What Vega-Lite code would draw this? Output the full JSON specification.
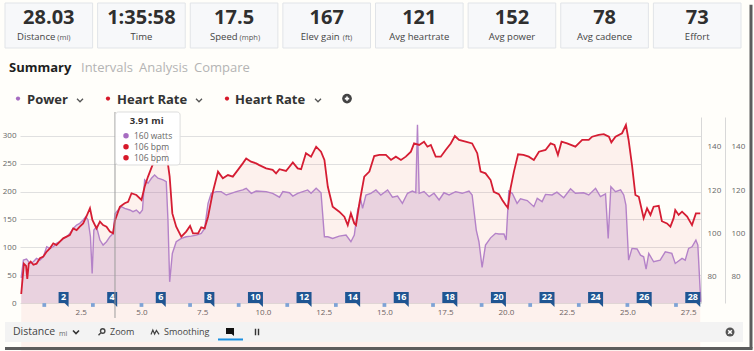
{
"$schema": "https://vega.github.io/schema/vega-lite/v6.json",
"width": 681, "height": 186,
"autosize": {"type": "none"},
"padding": {"left": 20, "top": 117, "right": 53, "bottom": 48},
"background": "#fffefa",
"config": {"view": {"stroke": null}, "font": "Open Sans", "axis": {"labelFont": "Open Sans", "labelFontSize": 8, "labelColor": "#666666", "labelOverlap": false}},
"datasets": {
"power": [{"d":0.05,"w":45},{"d":0.14,"w":77},{"d":0.27,"w":79},{"d":0.41,"w":71},{"d":0.55,"w":74},{"d":0.68,"w":80},{"d":0.82,"w":77},{"d":0.96,"w":83},{"d":1.1,"w":101},{"d":1.23,"w":98},{"d":1.37,"w":101},{"d":1.5,"w":107},{"d":1.64,"w":110},{"d":1.78,"w":116},{"d":1.92,"w":119},{"d":2.05,"w":125},{"d":2.19,"w":134},{"d":2.33,"w":140},{"d":2.46,"w":143},{"d":2.6,"w":149},{"d":2.71,"w":155},{"d":2.8,"w":149},{"d":2.9,"w":119},{"d":2.97,"w":53},{"d":3.04,"w":131},{"d":3.15,"w":137},{"d":3.29,"w":113},{"d":3.42,"w":104},{"d":3.56,"w":110},{"d":3.7,"w":119},{"d":3.83,"w":125},{"d":3.91,"w":160},{"d":4.04,"w":167},{"d":4.17,"w":173},{"d":4.31,"w":170},{"d":4.52,"w":167},{"d":4.65,"w":164},{"d":4.79,"w":167},{"d":4.93,"w":161},{"d":5.04,"w":167},{"d":5.13,"w":221},{"d":5.27,"w":215},{"d":5.41,"w":224},{"d":5.54,"w":230},{"d":5.68,"w":224},{"d":5.89,"w":221},{"d":6.02,"w":218},{"d":6.09,"w":149},{"d":6.16,"w":38},{"d":6.27,"w":89},{"d":6.43,"w":110},{"d":6.64,"w":116},{"d":6.84,"w":119},{"d":7.05,"w":120},{"d":7.26,"w":122},{"d":7.46,"w":125},{"d":7.6,"w":134},{"d":7.74,"w":179},{"d":7.87,"w":197},{"d":8.08,"w":200},{"d":8.28,"w":200},{"d":8.49,"w":194},{"d":8.69,"w":197},{"d":8.9,"w":200},{"d":9.17,"w":203},{"d":9.31,"w":206},{"d":9.52,"w":197},{"d":9.72,"w":201},{"d":10.13,"w":200},{"d":10.4,"w":197},{"d":10.68,"w":190},{"d":10.82,"w":200},{"d":11.09,"w":198},{"d":11.23,"w":192},{"d":11.43,"w":197},{"d":11.64,"w":200},{"d":11.84,"w":203},{"d":11.98,"w":197},{"d":12.19,"w":206},{"d":12.39,"w":198},{"d":12.53,"w":119},{"d":12.67,"w":119},{"d":12.87,"w":116},{"d":13.14,"w":120},{"d":13.42,"w":122},{"d":13.62,"w":110},{"d":13.76,"w":122},{"d":13.9,"w":167},{"d":14.03,"w":185},{"d":14.1,"w":170},{"d":14.24,"w":194},{"d":14.44,"w":197},{"d":14.65,"w":203},{"d":14.85,"w":194},{"d":15.13,"w":203},{"d":15.33,"w":190},{"d":15.54,"w":192},{"d":15.74,"w":179},{"d":15.95,"w":197},{"d":16.15,"w":201},{"d":16.29,"w":198},{"d":16.36,"w":320},{"d":16.43,"w":197},{"d":16.63,"w":200},{"d":16.84,"w":191},{"d":17.04,"w":197},{"d":17.25,"w":185},{"d":17.45,"w":198},{"d":17.66,"w":194},{"d":17.93,"w":200},{"d":18.2,"w":197},{"d":18.48,"w":201},{"d":18.61,"w":194},{"d":18.78,"w":131},{"d":18.89,"w":110},{"d":19.02,"w":64},{"d":19.16,"w":104},{"d":19.37,"w":117},{"d":19.57,"w":125},{"d":19.71,"w":124},{"d":19.92,"w":124},{"d":20.01,"w":113},{"d":20.12,"w":201},{"d":20.26,"w":197},{"d":20.46,"w":179},{"d":20.6,"w":187},{"d":20.88,"w":184},{"d":21.15,"w":173},{"d":21.29,"w":188},{"d":21.49,"w":182},{"d":21.63,"w":195},{"d":21.9,"w":194},{"d":22.1,"w":199},{"d":22.38,"w":189},{"d":22.66,"w":205},{"d":22.86,"w":197},{"d":23.2,"w":198},{"d":23.41,"w":194},{"d":23.69,"w":206},{"d":23.89,"w":191},{"d":24.1,"w":196},{"d":24.21,"w":116},{"d":24.32,"w":209},{"d":24.51,"w":200},{"d":24.72,"w":203},{"d":24.85,"w":194},{"d":24.94,"w":176},{"d":25.05,"w":77},{"d":25.19,"w":98},{"d":25.4,"w":97},{"d":25.54,"w":86},{"d":25.67,"w":83},{"d":25.77,"w":61},{"d":25.88,"w":89},{"d":26.08,"w":74},{"d":26.35,"w":77},{"d":26.56,"w":92},{"d":26.83,"w":89},{"d":26.97,"w":71},{"d":27.25,"w":80},{"d":27.38,"w":77},{"d":27.52,"w":98},{"d":27.66,"w":101},{"d":27.82,"w":113},{"d":27.9,"w":104},{"d":28.02,"w":2}],
"hr": [{"d":0.05,"bpm":72},{"d":0.16,"bpm":86},{"d":0.25,"bpm":85},{"d":0.3,"bpm":79},{"d":0.36,"bpm":86},{"d":0.44,"bpm":87},{"d":0.55,"bpm":85.5},{"d":0.68,"bpm":86},{"d":0.82,"bpm":88.5},{"d":0.96,"bpm":89.3},{"d":1.1,"bpm":91.6},{"d":1.23,"bpm":93.1},{"d":1.37,"bpm":95.4},{"d":1.5,"bpm":94.6},{"d":1.64,"bpm":96.2},{"d":1.78,"bpm":97.7},{"d":1.92,"bpm":98.5},{"d":2.05,"bpm":99.2},{"d":2.19,"bpm":102.3},{"d":2.33,"bpm":101.5},{"d":2.46,"bpm":103.1},{"d":2.6,"bpm":104.6},{"d":2.74,"bpm":108},{"d":2.88,"bpm":111.6},{"d":2.98,"bpm":106.2},{"d":3.15,"bpm":102.3},{"d":3.29,"bpm":105.4},{"d":3.42,"bpm":103.8},{"d":3.56,"bpm":103.1},{"d":3.7,"bpm":100.8},{"d":3.83,"bpm":100},{"d":3.91,"bpm":106},{"d":4.11,"bpm":112.3},{"d":4.31,"bpm":113.9},{"d":4.45,"bpm":114.6},{"d":4.59,"bpm":118.5},{"d":4.79,"bpm":117.7},{"d":5.0,"bpm":115.4},{"d":5.13,"bpm":121.5},{"d":5.27,"bpm":126.2},{"d":5.48,"bpm":132.3},{"d":5.62,"bpm":136.9},{"d":5.82,"bpm":139.2},{"d":6.02,"bpm":137.7},{"d":6.16,"bpm":126.2},{"d":6.27,"bpm":109.2},{"d":6.43,"bpm":103.1},{"d":6.64,"bpm":98.5},{"d":6.84,"bpm":100.8},{"d":7.0,"bpm":103.4},{"d":7.12,"bpm":100},{"d":7.33,"bpm":100},{"d":7.46,"bpm":102.8},{"d":7.6,"bpm":102.3},{"d":7.74,"bpm":107.7},{"d":7.94,"bpm":119.2},{"d":8.15,"bpm":128.5},{"d":8.35,"bpm":125.4},{"d":8.56,"bpm":126.9},{"d":8.76,"bpm":126.2},{"d":8.97,"bpm":129.3},{"d":9.17,"bpm":132.3},{"d":9.31,"bpm":134.6},{"d":9.51,"bpm":133.1},{"d":9.72,"bpm":132.3},{"d":9.85,"bpm":131.5},{"d":10.13,"bpm":130},{"d":10.4,"bpm":129.3},{"d":10.54,"bpm":127.7},{"d":10.68,"bpm":129.6},{"d":10.95,"bpm":128.8},{"d":11.23,"bpm":132.7},{"d":11.43,"bpm":130},{"d":11.57,"bpm":129.6},{"d":11.77,"bpm":137},{"d":11.98,"bpm":135.4},{"d":12.19,"bpm":140},{"d":12.39,"bpm":137.7},{"d":12.53,"bpm":133.9},{"d":12.67,"bpm":121.5},{"d":12.87,"bpm":112.3},{"d":13.14,"bpm":110},{"d":13.35,"bpm":107.7},{"d":13.49,"bpm":103.8},{"d":13.62,"bpm":109.2},{"d":13.76,"bpm":104.6},{"d":13.83,"bpm":103.8},{"d":13.97,"bpm":113.9},{"d":14.17,"bpm":126.2},{"d":14.38,"bpm":128.5},{"d":14.58,"bpm":135.7},{"d":14.79,"bpm":136.2},{"d":15.06,"bpm":136.2},{"d":15.27,"bpm":133.9},{"d":15.47,"bpm":135.4},{"d":15.68,"bpm":133.9},{"d":15.88,"bpm":135.4},{"d":16.09,"bpm":137.7},{"d":16.22,"bpm":141.5},{"d":16.43,"bpm":140.8},{"d":16.63,"bpm":142.3},{"d":16.77,"bpm":140},{"d":16.91,"bpm":140.8},{"d":17.11,"bpm":135.4},{"d":17.32,"bpm":135.4},{"d":17.52,"bpm":138.5},{"d":17.73,"bpm":141.5},{"d":17.9,"bpm":144.9},{"d":18.07,"bpm":143.1},{"d":18.34,"bpm":142.3},{"d":18.61,"bpm":141.5},{"d":18.82,"bpm":137},{"d":18.96,"bpm":128.5},{"d":19.16,"bpm":127.7},{"d":19.37,"bpm":124.6},{"d":19.5,"bpm":119.2},{"d":19.71,"bpm":118.1},{"d":19.85,"bpm":115.4},{"d":19.99,"bpm":113.1},{"d":20.08,"bpm":111.8},{"d":20.19,"bpm":120.8},{"d":20.33,"bpm":128.5},{"d":20.5,"bpm":136.5},{"d":20.72,"bpm":136.2},{"d":20.94,"bpm":135.4},{"d":21.15,"bpm":133.9},{"d":21.36,"bpm":137.7},{"d":21.63,"bpm":138.5},{"d":21.84,"bpm":141.5},{"d":22.0,"bpm":140.8},{"d":22.14,"bpm":136.2},{"d":22.29,"bpm":142.3},{"d":22.52,"bpm":141.5},{"d":22.86,"bpm":140},{"d":23.14,"bpm":143.1},{"d":23.41,"bpm":143.1},{"d":23.55,"bpm":144.6},{"d":23.82,"bpm":145.4},{"d":24.03,"bpm":145.8},{"d":24.24,"bpm":144.6},{"d":24.34,"bpm":142},{"d":24.51,"bpm":144.6},{"d":24.78,"bpm":146.2},{"d":24.94,"bpm":150},{"d":25.05,"bpm":143.1},{"d":25.19,"bpm":131.5},{"d":25.33,"bpm":117.7},{"d":25.47,"bpm":116.9},{"d":25.67,"bpm":107},{"d":25.81,"bpm":111.6},{"d":25.95,"bpm":108.5},{"d":26.08,"bpm":112.3},{"d":26.29,"bpm":112.7},{"d":26.42,"bpm":105.6},{"d":26.63,"bpm":104.6},{"d":26.77,"bpm":103.1},{"d":26.9,"bpm":106.9},{"d":26.97,"bpm":110.8},{"d":27.11,"bpm":108.5},{"d":27.25,"bpm":110},{"d":27.46,"bpm":107.7},{"d":27.66,"bpm":103.8},{"d":27.82,"bpm":109.2},{"d":28.0,"bpm":109.2}],
"flags": [{"m":2},{"m":4},{"m":6},{"m":8},{"m":10},{"m":12},{"m":14},{"m":16},{"m":18},{"m":20},{"m":22},{"m":24},{"m":26},{"m":28}],
"laps": [{"m":1},{"m":3},{"m":5},{"m":7},{"m":9},{"m":11},{"m":13},{"m":15},{"m":17},{"m":19},{"m":21},{"m":23},{"m":25},{"m":27}],
"tiles": [{"i":1,"n":"28.03","l":"Distance","u":"(mi)"},{"i":2,"n":"1:35:58","l":"Time","u":""},{"i":3,"n":"17.5","l":"Speed","u":"(mph)"},{"i":4,"n":"167","l":"Elev gain","u":"(ft)"},{"i":5,"n":"121","l":"Avg heartrate","u":""},{"i":6,"n":"152","l":"Avg power","u":""},{"i":7,"n":"78","l":"Avg cadence","u":""},{"i":8,"n":"73","l":"Effort","u":""}]
},
"resolve": {"scale": {"x": "independent", "y": "independent"}},
"layer": [
{"data": {"name": "hr"},
 "mark": {"type": "area", "color": "#e8433a", "fillOpacity": 0.065},
 "encoding": {
  "x": {"field": "d", "type": "quantitative", "scale": {"domain": [0, 28.03], "nice": false, "zero": false}, "axis": null},
  "y": {"field": "bpm", "type": "quantitative", "scale": {"domain": [67.86, 153.7], "nice": false, "zero": false},
        "axis": {"orient": "right", "values": [80, 100, 120, 140], "grid": false, "domain": true, "domainColor": "#d8d8d8", "ticks": false, "labelPadding": 6, "labelOverlap": false, "title": null}}}},
{"data": {"name": "power"},
 "mark": {"type": "area", "color": "#9b59a8", "fillOpacity": 0.2},
 "encoding": {
  "x": {"field": "d", "type": "quantitative", "scale": {"domain": [0, 28.03], "nice": false, "zero": false},
        "axis": {"orient": "bottom", "values": [2.5, 5, 7.5, 10, 12.5, 15, 17.5, 20, 22.5, 25, 27.5], "format": ".1f", "grid": false, "domain": false, "ticks": false, "labelPadding": 5, "labelOverlap": false, "title": null}},
  "y": {"field": "w", "type": "quantitative", "scale": {"domain": [0, 334], "nice": false, "zero": false},
        "axis": {"orient": "left", "values": [0, 50, 100, 150, 200, 250, 300], "grid": true, "gridColor": "#e0e0e0", "domain": false, "ticks": false, "labelPadding": 4, "labelOverlap": false, "title": null}}}},
{"data": {"name": "power"},
 "mark": {"type": "line", "color": "#b482c8", "strokeWidth": 1.4},
 "encoding": {
  "x": {"field": "d", "type": "quantitative", "scale": {"domain": [0, 28.03], "nice": false, "zero": false}, "axis": null},
  "y": {"field": "w", "type": "quantitative", "scale": {"domain": [0, 334], "nice": false, "zero": false}, "axis": null}}},
{"data": {"name": "hr"},
 "mark": {"type": "line", "color": "#d51d33", "strokeWidth": 1.8},
 "encoding": {
  "x": {"field": "d", "type": "quantitative", "scale": {"domain": [0, 28.03], "nice": false, "zero": false}, "axis": null},
  "y": {"field": "bpm", "type": "quantitative", "scale": {"domain": [67.86, 153.7], "nice": false, "zero": false},
        "axis": {"orient": "right", "offset": 24, "values": [80, 100, 120, 140], "grid": false, "domain": true, "domainColor": "#d8d8d8", "ticks": false, "labelPadding": 6, "labelOverlap": false, "title": null}}}},
{"data": {"name": "laps"},
 "mark": {"type": "point", "shape": "square", "filled": true, "color": "#7ea3d6", "opacity": 1, "size": 14, "yOffset": 2},
 "encoding": {
  "x": {"field": "m", "type": "quantitative", "scale": {"domain": [0, 28.03], "nice": false, "zero": false}, "axis": null},
  "y": {"datum": 0, "scale": {"domain": [0, 334], "nice": false, "zero": false}, "axis": null}}},
{"data": {"name": "flags"},
 "layer": [
  {"transform": [{"filter": "datum.m < 10"}],
   "mark": {"type": "rect", "color": "#1f5592", "xOffset": -10},
   "encoding": {"x": {"field": "m", "type": "quantitative", "scale": {"domain": [0, 28.03], "nice": false, "zero": false}, "axis": null}, "x2": {"field": "m"},
     "y": {"datum": 0, "scale": {"domain": [0, 334], "nice": false, "zero": false}, "axis": null}, "y2": {"datum": 19.75}}},
  {"transform": [{"filter": "datum.m >= 10"}],
   "mark": {"type": "rect", "color": "#1f5592", "xOffset": -15},
   "encoding": {"x": {"field": "m", "type": "quantitative", "axis": null}, "x2": {"field": "m"}, "y": {"datum": 0, "axis": null}, "y2": {"datum": 19.75}}},
  {"mark": {"type": "point", "shape": "M-1,-1L1,-1L1,1Z", "filled": true, "color": "#1f5592", "opacity": 1, "size": 16, "xOffset": -2, "yOffset": 2},
   "encoding": {"x": {"field": "m", "type": "quantitative", "axis": null}, "y": {"datum": 0, "axis": null}}},
  {"transform": [{"filter": "datum.m < 10"}],
   "mark": {"type": "text", "color": "#ffffff", "fontWeight": "bold", "fontSize": 9, "dx": -5, "baseline": "middle"},
   "encoding": {"x": {"field": "m", "type": "quantitative", "axis": null}, "y": {"datum": 9.9, "axis": null}, "text": {"field": "m", "type": "quantitative"}}},
  {"transform": [{"filter": "datum.m >= 10"}],
   "mark": {"type": "text", "color": "#ffffff", "fontWeight": "bold", "fontSize": 9, "dx": -7.5, "baseline": "middle"},
   "encoding": {"x": {"field": "m", "type": "quantitative", "axis": null}, "y": {"datum": 9.9, "axis": null}, "text": {"field": "m", "type": "quantitative"}}}
 ]},
{"data": {"values": [{}]},
 "layer": [
  {"mark": {"type": "rule", "color": "#9c9c9c", "strokeWidth": 1},
   "encoding": {"x": {"datum": 3.91, "scale": {"domain": [0, 28.03], "nice": false, "zero": false}, "axis": null},
     "y": {"datum": 343, "scale": {"domain": [0, 334], "nice": false, "zero": false}, "axis": null}, "y2": {"datum": -26.9}}},
  {"mark": {"type": "rect", "fill": "#ffffff", "fillOpacity": 0.93, "stroke": "#dddddd", "strokeWidth": 1, "cornerRadius": 3},
   "encoding": {"x": {"datum": 3.93, "axis": null}, "x2": {"datum": 6.59}, "y": {"datum": 343, "axis": null}, "y2": {"datum": 247.8}}},
  {"mark": {"type": "text", "text": "3.91 mi", "fontWeight": "bold", "fontSize": 9.5, "color": "#333333", "align": "center", "baseline": "middle"},
   "encoding": {"x": {"datum": 5.215, "axis": null}, "y": {"datum": 327.7, "axis": null}}},
  {"mark": {"type": "point", "shape": "circle", "filled": true, "opacity": 1, "color": "#a66cc1", "size": 30},
   "encoding": {"x": {"datum": 4.363, "axis": null}, "y": {"datum": 300.4, "axis": null}}},
  {"mark": {"type": "point", "shape": "circle", "filled": true, "opacity": 1, "color": "#d7182a", "size": 30},
   "encoding": {"x": {"datum": 4.363, "axis": null}, "y": {"datum": 280.7, "axis": null}}},
  {"mark": {"type": "point", "shape": "circle", "filled": true, "opacity": 1, "color": "#d7182a", "size": 30},
   "encoding": {"x": {"datum": 4.363, "axis": null}, "y": {"datum": 260.9, "axis": null}}},
  {"mark": {"type": "text", "text": "160 watts", "fontSize": 8.5, "color": "#666666", "align": "left", "baseline": "middle"},
   "encoding": {"x": {"datum": 4.692, "axis": null}, "y": {"datum": 300.4, "axis": null}}},
  {"mark": {"type": "text", "text": "106 bpm", "fontSize": 8.5, "color": "#666666", "align": "left", "baseline": "middle"},
   "encoding": {"x": {"datum": 4.692, "axis": null}, "y": {"datum": 280.7, "axis": null}}},
  {"mark": {"type": "text", "text": "106 bpm", "fontSize": 8.5, "color": "#666666", "align": "left", "baseline": "middle"},
   "encoding": {"x": {"datum": 4.692, "axis": null}, "y": {"datum": 260.9, "axis": null}}},

  {"mark": {"type": "text", "text": "Summary", "fontSize": 13, "fontWeight": "bold", "color": "#1e1e1e", "align": "left", "baseline": "middle"},
   "encoding": {"x": {"datum": -0.453, "axis": null}, "y": {"datum": 421.1, "axis": null}}},
  {"mark": {"type": "text", "text": "Intervals", "fontSize": 13, "color": "#b4b4b4", "align": "left", "baseline": "middle"},
   "encoding": {"x": {"datum": 2.511, "axis": null}, "y": {"datum": 421.1, "axis": null}}},
  {"mark": {"type": "text", "text": "Analysis", "fontSize": 13, "color": "#b4b4b4", "align": "left", "baseline": "middle"},
   "encoding": {"x": {"datum": 4.898, "axis": null}, "y": {"datum": 421.1, "axis": null}}},
  {"mark": {"type": "text", "text": "Compare", "fontSize": 13, "color": "#b4b4b4", "align": "left", "baseline": "middle"},
   "encoding": {"x": {"datum": 7.162, "axis": null}, "y": {"datum": 421.1, "axis": null}}},

  {"mark": {"type": "point", "shape": "circle", "filled": true, "opacity": 1, "color": "#a66cc1", "size": 18},
   "encoding": {"x": {"datum": -0.082, "axis": null}, "y": {"datum": 367, "axis": null}}},
  {"mark": {"type": "point", "shape": "circle", "filled": true, "opacity": 1, "color": "#d7182a", "size": 18},
   "encoding": {"x": {"datum": 3.622, "axis": null}, "y": {"datum": 367, "axis": null}}},
  {"mark": {"type": "point", "shape": "circle", "filled": true, "opacity": 1, "color": "#d7182a", "size": 18},
   "encoding": {"x": {"datum": 8.52, "axis": null}, "y": {"datum": 367, "axis": null}}},
  {"mark": {"type": "text", "text": "Power", "fontSize": 13, "fontWeight": "bold", "color": "#333333", "align": "left", "baseline": "middle"},
   "encoding": {"x": {"datum": 0.288, "axis": null}, "y": {"datum": 365.4, "axis": null}}},
  {"mark": {"type": "text", "text": "Heart Rate", "fontSize": 13, "fontWeight": "bold", "color": "#333333", "align": "left", "baseline": "middle"},
   "encoding": {"x": {"datum": 3.993, "axis": null}, "y": {"datum": 365.4, "axis": null}}},
  {"mark": {"type": "text", "text": "Heart Rate", "fontSize": 13, "fontWeight": "bold", "color": "#333333", "align": "left", "baseline": "middle"},
   "encoding": {"x": {"datum": 8.85, "axis": null}, "y": {"datum": 365.4, "axis": null}}},
  {"mark": {"type": "point", "shape": "M-1,-0.5L0,0.5L1,-0.5", "filled": false, "opacity": 1, "color": "#555555", "strokeWidth": 1.3, "size": 36},
   "encoding": {"x": {"datum": 2.47, "axis": null}, "y": {"datum": 364, "axis": null}}},
  {"mark": {"type": "point", "shape": "M-1,-0.5L0,0.5L1,-0.5", "filled": false, "opacity": 1, "color": "#555555", "strokeWidth": 1.3, "size": 36},
   "encoding": {"x": {"datum": 7.368, "axis": null}, "y": {"datum": 364, "axis": null}}},
  {"mark": {"type": "point", "shape": "M-1,-0.5L0,0.5L1,-0.5", "filled": false, "opacity": 1, "color": "#555555", "strokeWidth": 1.3, "size": 36},
   "encoding": {"x": {"datum": 12.266, "axis": null}, "y": {"datum": 364, "axis": null}}},
  {"mark": {"type": "point", "shape": "circle", "filled": true, "opacity": 1, "color": "#444444", "size": 95},
   "encoding": {"x": {"datum": 13.46, "axis": null}, "y": {"datum": 367, "axis": null}}},
  {"mark": {"type": "point", "shape": "M-0.55,0L0.55,0M0,-0.55L0,0.55", "filled": false, "opacity": 1, "color": "#ffffff", "strokeWidth": 1.6, "size": 64},
   "encoding": {"x": {"datum": 13.46, "axis": null}, "y": {"datum": 367, "axis": null}}},

  {"mark": {"type": "rect", "color": "#f3f3f3"},
   "encoding": {"x": {"datum": -0.617, "axis": null}, "x2": {"datum": 29.759}, "y": {"datum": -34.1, "axis": null}, "y2": {"datum": -70}}},
  {"mark": {"type": "text", "text": "Distance", "fontSize": 10.5, "color": "#444444", "align": "left", "baseline": "middle"},
   "encoding": {"x": {"datum": -0.288, "axis": null}, "y": {"datum": -52.1, "axis": null}}},
  {"mark": {"type": "text", "text": "mi", "fontSize": 7, "color": "#666666", "align": "left", "baseline": "middle"},
   "encoding": {"x": {"datum": 1.605, "axis": null}, "y": {"datum": -54.8, "axis": null}}},
  {"mark": {"type": "point", "shape": "M-1,-0.5L0,0.5L1,-0.5", "filled": false, "opacity": 1, "color": "#333333", "strokeWidth": 1.6, "size": 36},
   "encoding": {"x": {"datum": 2.305, "axis": null}, "y": {"datum": -52.1, "axis": null}}},
  {"mark": {"type": "point", "shape": "M0.8,-0.25A0.55,0.55 0 1,1 -0.3,-0.25A0.55,0.55 0 1,1 0.8,-0.25M-0.14,0.14L-0.8,0.8", "filled": false, "opacity": 1, "color": "#444444", "strokeWidth": 1.4, "size": 64},
   "encoding": {"x": {"datum": 3.363, "axis": null}, "y": {"datum": -52.1, "axis": null}}},
  {"mark": {"type": "text", "text": "Zoom", "fontSize": 9, "color": "#444444", "align": "left", "baseline": "middle"},
   "encoding": {"x": {"datum": 3.704, "axis": null}, "y": {"datum": -52.1, "axis": null}}},
  {"mark": {"type": "point", "shape": "M-1,0.6L-0.55,-0.5L-0.1,0.5L0.35,-0.4L1,0.6", "filled": false, "opacity": 1, "color": "#444444", "strokeWidth": 1.2, "size": 64},
   "encoding": {"x": {"datum": 5.557, "axis": null}, "y": {"datum": -52.1, "axis": null}}},
  {"mark": {"type": "text", "text": "Smoothing", "fontSize": 9, "color": "#444444", "align": "left", "baseline": "middle"},
   "encoding": {"x": {"datum": 5.927, "axis": null}, "y": {"datum": -52.1, "axis": null}}},
  {"mark": {"type": "point", "shape": "M-1,-1L1,-1L1,1L0.4,0.5L-1,0.5Z", "filled": true, "opacity": 1, "color": "#111111", "size": 64},
   "encoding": {"x": {"datum": 8.644, "axis": null}, "y": {"datum": -52.1, "axis": null}}},
  {"mark": {"type": "rule", "color": "#1a8fe0", "strokeWidth": 2},
   "encoding": {"x": {"datum": 8.15, "axis": null}, "x2": {"datum": 9.179}, "y": {"datum": -65.5, "axis": null}}},
  {"mark": {"type": "point", "shape": "M-0.7,-1L-0.25,-1L-0.25,1L-0.7,1ZM0.25,-1L0.7,-1L0.7,1L0.25,1Z", "filled": true, "opacity": 1, "color": "#333333", "size": 40},
   "encoding": {"x": {"datum": 9.755, "axis": null}, "y": {"datum": -52.1, "axis": null}}},
  {"mark": {"type": "point", "shape": "circle", "filled": true, "opacity": 1, "color": "#555555", "size": 80},
   "encoding": {"x": {"datum": 29.224, "axis": null}, "y": {"datum": -52.1, "axis": null}}},
  {"mark": {"type": "point", "shape": "M-0.45,-0.45L0.45,0.45M0.45,-0.45L-0.45,0.45", "filled": false, "opacity": 1, "color": "#ffffff", "strokeWidth": 1.5, "size": 64},
   "encoding": {"x": {"datum": 29.224, "axis": null}, "y": {"datum": -52.1, "axis": null}}},

  {"mark": {"type": "rule", "color": "#5c5c5c", "strokeWidth": 3},
   "encoding": {"x": {"datum": 30.088, "axis": null}, "y": {"datum": 535.6, "axis": null}, "y2": {"datum": -81.7}}},
  {"mark": {"type": "rule", "color": "#5c5c5c", "strokeWidth": 3},
   "encoding": {"x": {"datum": -0.617, "axis": null}, "x2": {"datum": 30.15}, "y": {"datum": -81.7, "axis": null}}}
 ]},
{"data": {"name": "tiles"},
 "layer": [
  {"mark": {"type": "rect", "fill": "#f7f8fa", "stroke": "#e1e4e8", "strokeWidth": 1},
   "encoding": {"x": {"field": "i", "type": "ordinal", "scale": {"range": [-15, 721], "paddingInner": 0.054, "paddingOuter": 0}, "axis": null},
     "y": {"datum": 538.7, "scale": {"domain": [0, 334], "nice": false, "zero": false}, "axis": null}, "y2": {"datum": 457.9}}},
  {"mark": {"type": "text", "fontSize": 20, "fontWeight": "bold", "color": "#2f2f2f", "baseline": "middle", "align": "center"},
   "encoding": {"x": {"field": "i", "type": "ordinal", "axis": null}, "y": {"datum": 511.8, "axis": null}, "text": {"field": "n"}}},
  {"transform": [{"filter": "datum.u == ''"}],
   "mark": {"type": "text", "fontSize": 9.5, "color": "#444444", "baseline": "middle", "align": "center"},
   "encoding": {"x": {"field": "i", "type": "ordinal", "axis": null}, "y": {"datum": 477.7, "axis": null}, "text": {"field": "l"}}},
  {"transform": [{"filter": "datum.i == 1"}],
   "mark": {"type": "text", "fontSize": 9.5, "color": "#444444", "baseline": "middle", "align": "right", "dx": 6.5},
   "encoding": {"x": {"field": "i", "type": "ordinal", "axis": null}, "y": {"datum": 477.7, "axis": null}, "text": {"field": "l"}}},
  {"transform": [{"filter": "datum.i == 1"}],
   "mark": {"type": "text", "fontSize": 7.5, "color": "#555555", "baseline": "middle", "align": "left", "dx": 8.5},
   "encoding": {"x": {"field": "i", "type": "ordinal", "axis": null}, "y": {"datum": 476.5, "axis": null}, "text": {"field": "u"}}},
  {"transform": [{"filter": "datum.i == 3"}],
   "mark": {"type": "text", "fontSize": 9.5, "color": "#444444", "baseline": "middle", "align": "right", "dx": 3.5},
   "encoding": {"x": {"field": "i", "type": "ordinal", "axis": null}, "y": {"datum": 477.7, "axis": null}, "text": {"field": "l"}}},
  {"transform": [{"filter": "datum.i == 3"}],
   "mark": {"type": "text", "fontSize": 7.5, "color": "#555555", "baseline": "middle", "align": "left", "dx": 5.5},
   "encoding": {"x": {"field": "i", "type": "ordinal", "axis": null}, "y": {"datum": 476.5, "axis": null}, "text": {"field": "u"}}},
  {"transform": [{"filter": "datum.i == 4"}],
   "mark": {"type": "text", "fontSize": 9.5, "color": "#444444", "baseline": "middle", "align": "right", "dx": 13},
   "encoding": {"x": {"field": "i", "type": "ordinal", "axis": null}, "y": {"datum": 477.7, "axis": null}, "text": {"field": "l"}}},
  {"transform": [{"filter": "datum.i == 4"}],
   "mark": {"type": "text", "fontSize": 7.5, "color": "#555555", "baseline": "middle", "align": "left", "dx": 16},
   "encoding": {"x": {"field": "i", "type": "ordinal", "axis": null}, "y": {"datum": 476.5, "axis": null}, "text": {"field": "u"}}}
 ]}
]
}
